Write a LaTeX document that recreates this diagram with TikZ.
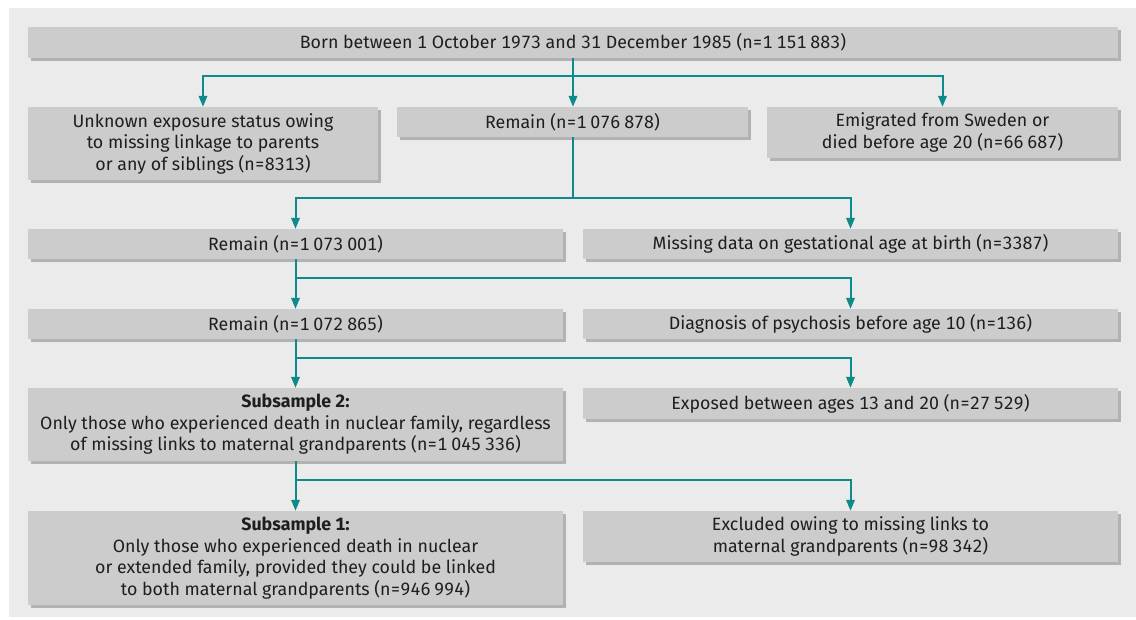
\documentclass[tikz,border=0pt]{standalone}
\usepackage{fontspec}
\setmainfont[Numbers={Monospaced,Lining}]{Fira Sans}
\usetikzlibrary{arrows.meta,shadows,calc}
\definecolor{panel}{HTML}{EBEBEB}
\definecolor{boxc}{HTML}{CCCCCC}
\definecolor{shad}{HTML}{B2B2B2}
\definecolor{tealc}{HTML}{0E8A8A}
\definecolor{txt}{HTML}{1E1E1E}
\newcommand{\gs}{\hspace{0.22em}}
\begin{document}
\begin{tikzpicture}[x=1pt,y=1pt,
  box/.style={rectangle, fill=boxc, inner sep=0pt, align=center, text=txt,
    font=\fontsize{17.8}{21.5}\selectfont,
    drop shadow={shadow xshift=2.5pt,shadow yshift=-2.5pt,opacity=1,fill=shad}},
  conn/.style={draw=tealc, line width=2pt},
  arr/.style={conn, -{Triangle[length=11pt,width=8.5pt]}}]
\useasboundingbox (0,0) rectangle (1136,-619);
\fill[white] (0,0) rectangle (1136,-619);
\fill[panel] (9,-8) rectangle (1136,-617);
% row 1
\node[box, minimum width=1090pt, minimum height=31pt] (top) at (573,-42.5)
  {Born between 1 October 1973 and 31 December 1985 (n=1\gs151\gs883)};
% row 2
\node[box, minimum width=350pt, minimum height=73pt] (unk) at (203,-143.5)
  {Unknown exposure status owing\\to missing linkage to parents\\or any of siblings (n=8313)};
\node[box, minimum width=351pt, minimum height=30pt] (rem1) at (572.5,-122)
  {Remain (n=1\gs076\gs878)};
\node[box, minimum width=351pt, minimum height=51pt] (emig) at (942.5,-132.5)
  {Emigrated from Sweden or\\died before age 20 (n=66\gs687)};
% row 3
\node[box, minimum width=535pt, minimum height=30pt] (rem2) at (295.5,-244)
  {Remain (n=1\gs073\gs001)};
\node[box, minimum width=535pt, minimum height=30pt] (gest) at (850.5,-244)
  {Missing data on gestational age at birth (n=3387)};
% row 4
\node[box, minimum width=535pt, minimum height=30pt] (rem3) at (295.5,-324)
  {Remain (n=1\gs072\gs865)};
\node[box, minimum width=535pt, minimum height=30pt] (psych) at (850.5,-324)
  {Diagnosis of psychosis before age 10 (n=136)};
% row 5
\node[box, minimum width=535pt, minimum height=73pt] (sub2) at (295.5,-424.5)
  {\textbf{Subsample 2:}\\Only those who experienced death in nuclear family, regardless\\of missing links to maternal grandparents (n=1\gs045\gs336)};
\node[box, minimum width=535pt, minimum height=31pt] (expo) at (850.5,-403.5)
  {Exposed between ages 13 and 20 (n=27\gs529)};
% row 6
\node[box, minimum width=535pt, minimum height=94pt] (sub1) at (295.5,-558)
  {\textbf{Subsample 1:}\\Only those who experienced death in nuclear\\or extended family, provided they could be linked\\to both maternal grandparents (n=946\gs994)};
\node[box, minimum width=535pt, minimum height=51pt] (excl) at (850.5,-536.5)
  {Excluded owing to missing links to\\maternal grandparents (n=98\gs342)};
% connectors
\draw[arr] (top.south) -- (top.south |- rem1.north);
\coordinate (j0) at ($(top.south)+(0,-18)$);
\draw[arr] (j0) -| (unk.north);
\draw[arr] (j0) -| (emig.north);
\coordinate (j1) at ($(rem1.south)+(0,-61)$);
\draw[conn] (rem1.south) -- (j1);
\draw[arr] (j1) -| (rem2.north);
\draw[arr] (j1) -| (gest.north);
\draw[arr] (rem2.south) -- (rem3.north);
\coordinate (j2) at ($(rem2.south)+(0,-19)$);
\draw[arr] (j2) -| (psych.north);
\draw[arr] (rem3.south) -- (sub2.north);
\coordinate (j3) at ($(rem3.south)+(0,-19)$);
\draw[arr] (j3) -| (expo.north);
\draw[arr] (sub2.south) -- (sub1.north);
\coordinate (j4) at ($(sub2.south)+(0,-19)$);
\draw[arr] (j4) -| (excl.north);
\end{tikzpicture}
\end{document}
